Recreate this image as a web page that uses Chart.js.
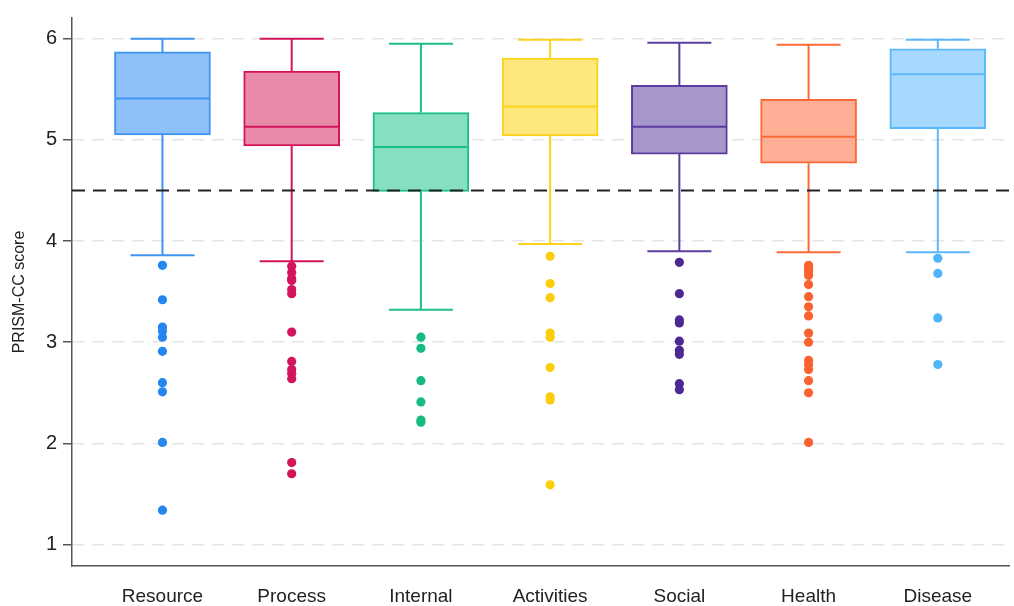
<!DOCTYPE html>
<html>
<head>
<meta charset="utf-8">
<script src="https://cdn.jsdelivr.net/npm/chart.js@4/dist/chart.umd.min.js"></script>
<style>
  body { margin: 0; background: #fff; }
</style>
</head>
<body>
<canvas id="box-chart" width="1014" height="606"></canvas>
<script>
const categories = ['Resource', 'Process', 'Internal', 'Activities', 'Social', 'Health', 'Disease'];

// box statistics
const whiskerLow  = [3.86, 3.80, 3.32, 3.97, 3.90, 3.89, 3.89];
const q1          = [5.05, 4.94, 4.49, 5.04, 4.86, 4.77, 5.11];
const median      = [5.41, 5.13, 4.93, 5.33, 5.13, 5.03, 5.65];
const q3          = [5.87, 5.68, 5.27, 5.81, 5.54, 5.40, 5.90];
const whiskerHigh = [6.00, 6.00, 5.95, 5.99, 5.96, 5.94, 5.99];

const outliers = [
  [3.76, 3.42, 3.15, 3.11, 3.05, 2.91, 2.60, 2.51, 2.01, 1.34],
  [3.75, 3.69, 3.63, 3.61, 3.52, 3.48, 3.10, 2.81, 2.73, 2.69, 2.64, 1.81, 1.70],
  [3.05, 2.94, 2.62, 2.41, 2.23, 2.21],
  [3.85, 3.58, 3.44, 3.09, 3.05, 2.75, 2.46, 2.43, 1.59],
  [3.79, 3.48, 3.22, 3.19, 3.01, 2.92, 2.88, 2.59, 2.53],
  [3.76, 3.73, 3.70, 3.66, 3.57, 3.45, 3.35, 3.26, 3.09, 3.00, 2.82, 2.78, 2.73, 2.62, 2.50, 2.01],
  [3.83, 3.68, 3.24, 2.78]
];

const cutoff = 4.5;
const yTicks = [1, 2, 3, 4, 5, 6];

const fillColors   = ['#8ec0fa', '#e98aa9', '#85dfc0', '#fee77c', '#a696cb', '#fdae94', '#a7d9fe'];
const lineColors   = ['#3f94f2', '#d3145c', '#1cbf87', '#fbd21b', '#5c3d9f', '#fc6a3a', '#5ab9fa'];
const pointColors  = ['#2486ee', '#d3135a', '#17bb7f', '#fbcd0a', '#4b2892', '#fc6130', '#4fb4f8'];

const FONT = "'Liberation Sans', Arial, sans-serif";

let boxData = [];
for (let i = 0; i < categories.length; i++) {
    boxData.push({x: i, y: [q1[i], q3[i]]});
}

let outlierData = [];
let outlierColors = [];
for (let i = 0; i < outliers.length; i++) {
    for (let j = 0; j < outliers[i].length; j++) {
        outlierData.push({x: i, y: outliers[i][j]});
        outlierColors.push(pointColors[i]);
    }
}

// whiskers, medians and the cut-off line
const boxLines = {
    id: 'boxLines',
    afterDatasetsDraw(chart) {
        const ctx = chart.ctx;
        const xs = chart.scales.x;
        const ys = chart.scales.y;
        const capHalf = 32;
        const boxHalf = 48;

        ctx.save();
        ctx.lineWidth = 2;
        for (let i = 0; i < categories.length; i++) {
            const cx = xs.getPixelForValue(i);
            ctx.strokeStyle = lineColors[i];
            ctx.beginPath();
            // upper whisker
            ctx.moveTo(cx, ys.getPixelForValue(q3[i]));
            ctx.lineTo(cx, ys.getPixelForValue(whiskerHigh[i]));
            ctx.moveTo(cx - capHalf, ys.getPixelForValue(whiskerHigh[i]));
            ctx.lineTo(cx + capHalf, ys.getPixelForValue(whiskerHigh[i]));
            // lower whisker
            ctx.moveTo(cx, ys.getPixelForValue(q1[i]));
            ctx.lineTo(cx, ys.getPixelForValue(whiskerLow[i]));
            ctx.moveTo(cx - capHalf, ys.getPixelForValue(whiskerLow[i]));
            ctx.lineTo(cx + capHalf, ys.getPixelForValue(whiskerLow[i]));
            // median
            ctx.moveTo(cx - boxHalf + 1, ys.getPixelForValue(median[i]));
            ctx.lineTo(cx + boxHalf - 1, ys.getPixelForValue(median[i]));
            ctx.stroke();
        }

        const yc = ys.getPixelForValue(cutoff);
        ctx.strokeStyle = '#222';
        ctx.setLineDash([13, 8]);
        ctx.beginPath();
        ctx.moveTo(chart.chartArea.left, yc);
        ctx.lineTo(chart.chartArea.right, yc);
        ctx.stroke();
        ctx.restore();
    }
};

const chart = new Chart(document.getElementById('box-chart'), {
    data: {
        datasets: [{
            type: 'bar',
            data: boxData,
            backgroundColor: fillColors,
            borderColor: lineColors,
            borderWidth: 2,
            borderSkipped: false,
            barThickness: 96,
            order: 2
        }, {
            type: 'scatter',
            data: outlierData,
            pointBackgroundColor: outlierColors,
            pointBorderWidth: 0,
            pointRadius: 4.6,
            order: 1
        }]
    },
    options: {
        responsive: false,
        animation: false,
        devicePixelRatio: 1,
        layout: { padding: { top: 11, right: -4, left: 0, bottom: 0 } },
        plugins: {
            legend: { display: false },
            tooltip: { enabled: false }
        },
        scales: {
            x: {
                type: 'linear',
                offset: false,
                min: -0.7,
                max: 6.554,
                afterBuildTicks: (scale) => { scale.ticks = categories.map((c, i) => ({value: i})); },
                afterFit: (scale) => { scale.height = 40; },
                ticks: {
                    callback: (v) => categories[v],
                    color: '#222',
                    padding: 19,
                    maxRotation: 0,
                    autoSkip: false,
                    font: { family: FONT, size: 19 }
                },
                grid: { display: false, drawTicks: false },
                border: { display: true, color: '#555', width: 1.5 }
            },
            y: {
                min: 0.788,
                max: 6.205,
                afterBuildTicks: (scale) => { scale.ticks = yTicks.map(v => ({value: v})); },
                afterFit: (scale) => { scale.width = 72; },
                ticks: {
                    color: '#222',
                    padding: 6,
                    font: { family: FONT, size: 20 }
                },
                grid: {
                    color: '#e6e6e6',
                    lineWidth: 1.5,
                    tickLength: 9,
                    tickColor: '#555',
                    tickWidth: 1.5
                },
                border: { display: true, color: '#555', width: 1.5, dash: [12, 8] },
                title: {
                    display: true,
                    text: 'PRISM-CC score',
                    color: '#222',
                    padding: { top: 10, bottom: 0 },
                    font: { family: FONT, size: 16 }
                }
            }
        }
    },
    plugins: [boxLines]
});
</script>
</body>
</html>
